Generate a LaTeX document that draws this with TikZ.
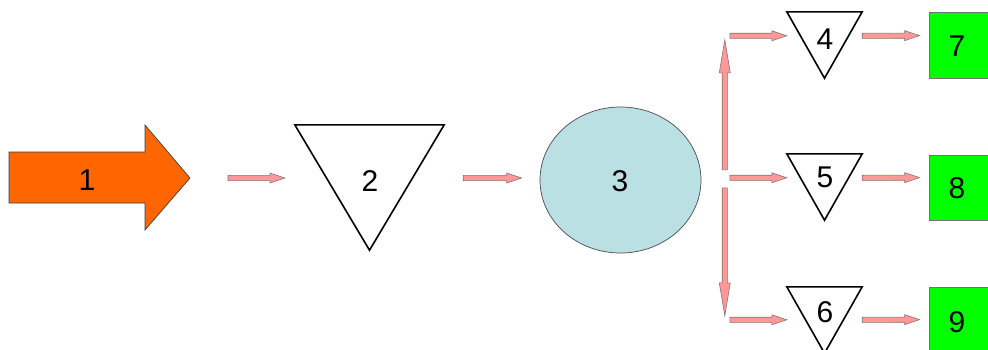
\documentclass[tikz,border=0pt]{standalone}
\usepackage{fontspec}
\setmainfont{Liberation Sans}
\usetikzlibrary{calc,shapes.geometric}
\definecolor{orangefill}{HTML}{FF6600}
\definecolor{cyanfill}{HTML}{BBE0E3}
\definecolor{greenfill}{HTML}{00FF00}
\definecolor{pinkfill}{HTML}{FF9999}
\definecolor{pinkedge}{HTML}{8A7070}
% block arrow: #1 tail, #2 head point, #3 head length, #4 head half width
\newcommand\flowarrow[4]{%
  \filldraw[flow] let \p1=#1, \p2=#2,
    \n1={veclen(\x2-\x1,\y2-\y1)},
    \n2={(\x2-\x1)/\n1}, \n3={(\y2-\y1)/\n1} in
    ({\x1-2.6*\n3},{\y1+2.6*\n2}) --
    ({\x2-#3*\n2-2.6*\n3},{\y2-#3*\n3+2.6*\n2}) --
    ({\x2-#3*\n2-#4*\n3},{\y2-#3*\n3+#4*\n2}) --
    (\x2,\y2) --
    ({\x2-#3*\n2+#4*\n3},{\y2-#3*\n3-#4*\n2}) --
    ({\x2-#3*\n2+2.6*\n3},{\y2-#3*\n3-2.6*\n2}) --
    ({\x1+2.6*\n3},{\y1-2.6*\n2}) -- cycle;}
\tikzset{
  lbl/.style={font=\fontsize{30}{36}\selectfont, inner sep=0pt},
  tribox/.style={rectangle, draw=none, inner sep=0pt},
  tri/.style={draw=black, line width=1.6pt, fill=white, line join=miter},
  gbox/.style={rectangle, draw=black!55, line width=0.8pt, fill=greenfill, inner sep=0pt},
  flow/.style={fill=pinkfill, draw=pinkedge, line width=0.6pt, line join=miter},
  bigarrow/.style={fill=orangefill, draw=black!75, line width=0.7pt},
}
\begin{document}
\begin{tikzpicture}[x=1pt,y=-1pt]
\useasboundingbox (0,0) rectangle (988,349);
\clip (0,0) rectangle (988,349);
\fill[white] (0,0) rectangle (988,349);
% node 1: big orange arrow
\coordinate (n1tip) at (190,178);
\draw[bigarrow] (9,152) -- (145,152) -- (145,125) -- (n1tip) -- (145,230) -- (145,203) -- (9,203) -- cycle;
\node[lbl] (n1) at (87,180) {1};
% node 2
\node[tribox, minimum width=149pt, minimum height=125pt] (n2) at (369.5,187.5) {};
\draw[tri] (n2.north west) -- (n2.north east) -- (n2.south) -- cycle;
\node[lbl] at (370,181) {2};
% node 3
\node[ellipse, draw=black!70, line width=0.7pt, fill=cyanfill, minimum width=161pt, minimum height=146pt, inner sep=0pt] (n3) at (620.5,180) {};
\node[lbl] at (620,181) {3};
% nodes 4,5,6
\node[tribox, minimum width=75pt, minimum height=66pt] (n4) at (824.5,45) {};
\node[tribox, minimum width=75pt, minimum height=66pt] (n5) at (824.5,187) {};
\node[tribox, minimum width=75pt, minimum height=66pt] (n6) at (824.5,320) {};
\foreach \t in {n4,n5,n6}
  \draw[tri] (\t.north west) -- (\t.north east) -- (\t.south) -- cycle;
\node[lbl] at (825,39) {4};
\node[lbl] at (825,177) {5};
\node[lbl] at (825,312.5) {6};
% nodes 7,8,9
\node[gbox, minimum width=71pt, minimum height=66pt] (n7) at (964.5,45) {};
\node[gbox, minimum width=71pt, minimum height=65pt] (n8) at (964.5,187.5) {};
\node[gbox, minimum width=71pt, minimum height=73pt] (n9) at (964.5,323.5) {};
\node[lbl] at (957,46) {7};
\node[lbl] at (957,188) {8};
\node[lbl] at (957,322) {9};
% connectors
\flowarrow{($(n1tip)+(38,0)$)}{($(n2.north west |- n1tip)+(-10,0)$)}{15}{5}
\flowarrow{($(n2.north east |- n1tip)+(19,0)$)}{($(n3.west)+(-18,-2)$)}{15}{5}
\flowarrow{($(n5.north west)+(-62,16)$)}{($(n4.north west)+(-62,28)$)}{33}{5.5}
\flowarrow{($(n5.north west)+(-62,34)$)}{($(n6.north west)+(-62,29)$)}{33}{5.5}
\flowarrow{($(n4.north west)+(-57,24)$)}{($(n4.north west)+(0,24)$)}{15}{5}
\flowarrow{($(n5.north west)+(-57,24)$)}{($(n5.north west)+(0,24)$)}{15}{5}
\flowarrow{($(n6.north west)+(-57,33)$)}{($(n6.north west)+(0,33)$)}{15}{5}
\flowarrow{($(n4.north east)+(0,24)$)}{($(n7.north west)+(-9,24)$)}{15}{5}
\flowarrow{($(n5.north east)+(0,24)$)}{($(n8.north west)+(-9,23)$)}{15}{5}
\flowarrow{($(n6.north east)+(0,33)$)}{($(n9.north west)+(-9,33)$)}{15}{5}
\end{tikzpicture}
\end{document}
